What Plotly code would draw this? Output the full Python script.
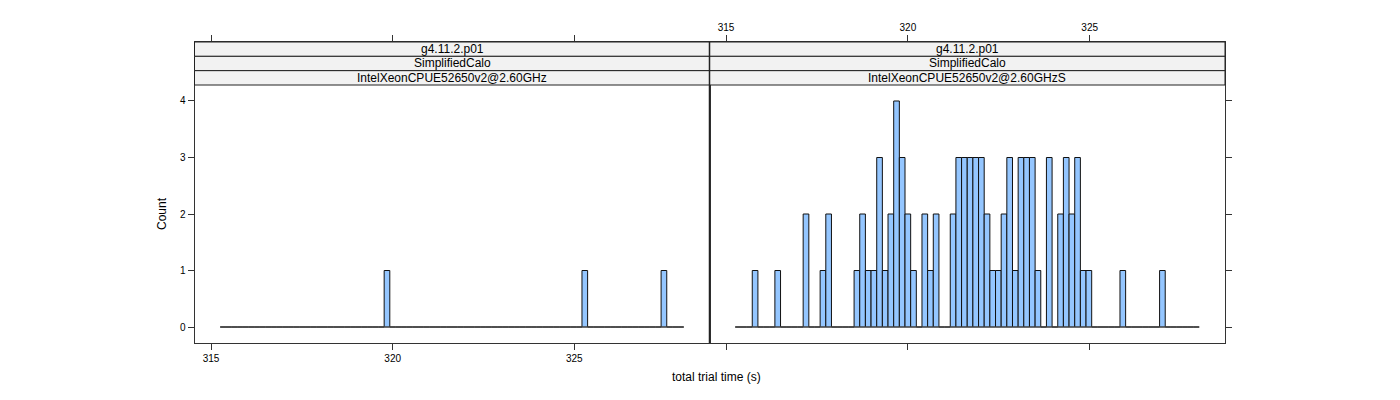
import plotly.graph_objects as go

# ---- data ----
bin_start = 315.255
bin_end = 328.01
n_bins = 82

panel_labels = ["IntelXeonCPUE52650v2@2.60GHz", "IntelXeonCPUE52650v2@2.60GHzS"]
strip_level1 = "g4.11.2.p01"
strip_level2 = "SimplifiedCalo"

counts_left = [0] * 82
for i in (29, 64, 78):
    counts_left[i] = 1

counts_right = (
    [0, 0, 0, 1, 0, 0, 0, 1, 0, 0]
    + [0, 0, 2, 0, 0, 1, 2, 0, 0, 0]
    + [0, 1, 2, 1, 1, 3, 1, 2, 4, 3]
    + [2, 1, 0, 2, 1, 2, 0, 0, 2, 3]
    + [3, 3, 3, 3, 2, 1, 1, 2, 3, 1]
    + [3, 3, 3, 1, 0, 3, 0, 2, 3, 2]
    + [3, 1, 1, 0, 0, 0, 0, 0, 1, 0]
    + [0, 0, 0, 0, 0, 1, 0, 0, 0, 0]
    + [0, 0]
)

x_ticks = [315, 320, 325]
y_ticks = [0, 1, 2, 3, 4]
x_title = "total trial time (s)"
y_title = "Count"

# ---- geometry ----
W, H = 1400, 400
bw = (bin_end - bin_start) / n_bins
centers = [bin_start + bw * (i + 0.5) for i in range(n_bins)]

def px(x):
    return x / W

def py(y):
    return 1 - y / H

xl = [px(194.5), px(709.5)]
xr = [px(709.5), px(1225)]
ydom = [py(343), py(42)]
xrange_ = [314.546, 328.72]
yrange_ = [-0.283, 5.044]

FONT = "Liberation Sans, Arial, Helvetica, sans-serif"
fill = "#94C6FF"
axcol = "#333333"

fig = go.Figure()
for counts, xa, ya in ((counts_left, "x", "y"), (counts_right, "x2", "y2")):
    fig.add_trace(go.Scatter(
        x=[bin_start, bin_end], y=[0, 0], mode="lines",
        line=dict(color="#555555", width=1),
        xaxis=xa, yaxis=ya, showlegend=False, hoverinfo="skip",
    ))
    fig.add_trace(go.Bar(
        x=centers, y=counts, width=[bw] * n_bins,
        marker=dict(color=fill, line=dict(color="#111111", width=1)),
        xaxis=xa, yaxis=ya, showlegend=False, hoverinfo="x+y",
    ))

common_x = dict(range=xrange_, tickvals=x_ticks, ticks="outside", ticklen=6,
                tickcolor=axcol, showline=True, linecolor=axcol, linewidth=1,
                showgrid=False, zeroline=False, mirror="ticks",
                tickfont=dict(family=FONT, size=10, color="black"))
common_y = dict(range=yrange_, tickvals=y_ticks, ticks="outside", ticklen=6,
                tickcolor=axcol, showline=True, linecolor=axcol, linewidth=1,
                showgrid=False, zeroline=False, mirror=True, domain=ydom,
                tickfont=dict(family=FONT, size=10, color="black"))

fig.update_layout(
    width=W, height=H,
    margin=dict(l=0, r=0, t=0, b=0),
    paper_bgcolor="white", plot_bgcolor="white",
    xaxis=dict(domain=xl, anchor="y", side="bottom", **common_x),
    yaxis=dict(anchor="x", side="left", **common_y),
    xaxis2=dict(domain=xr, anchor="y2", side="top", **common_x),
    yaxis2=dict(anchor="x2", side="right", **common_y),
    barmode="overlay",
)
fig.update_layout(yaxis2=dict(tickfont=dict(color="rgba(0,0,0,0)")))

# strips
row_edges = [42, 56.33, 70.67, 85]
shapes = []
annotations = []
for dom, lab in ((xl, panel_labels[0]), (xr, panel_labels[1])):
    texts = [strip_level1, strip_level2, lab]
    for r in range(3):
        shapes.append(dict(type="rect", xref="paper", yref="paper",
                           x0=dom[0], x1=dom[1], y0=py(row_edges[r + 1]), y1=py(row_edges[r]),
                           fillcolor="#F2F2F2", line=dict(color="#222222", width=1), layer="above"))
        annotations.append(dict(xref="paper", yref="paper",
                                x=(dom[0] + dom[1]) / 2, y=py((row_edges[r] + row_edges[r + 1]) / 2),
                                text=texts[r], showarrow=False,
                                font=dict(family=FONT, size=12, color="black"),
                                xanchor="center", yanchor="middle"))
# divider between panels
shapes.append(dict(type="line", xref="paper", yref="paper", x0=px(709.5), x1=px(709.5),
                   y0=py(343), y1=py(42), line=dict(color="#222222", width=1.5)))

annotations.append(dict(xref="paper", yref="paper", x=px(716), y=py(377), text=x_title,
                        showarrow=False, font=dict(family=FONT, size=12, color="black"),
                        xanchor="center", yanchor="middle"))
annotations.append(dict(xref="paper", yref="paper", x=px(162), y=py(214), text=y_title,
                        showarrow=False, textangle=-90, font=dict(family=FONT, size=12, color="black"),
                        xanchor="center", yanchor="middle"))

fig.update_layout(shapes=shapes, annotations=annotations)

fig.write_html("out.html", config={"displayModeBar": False})
